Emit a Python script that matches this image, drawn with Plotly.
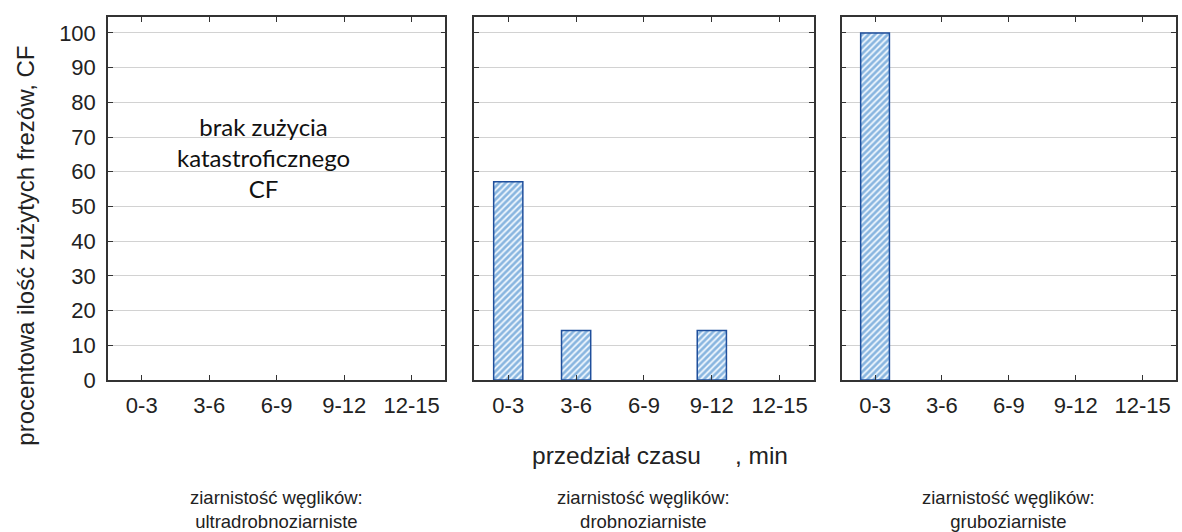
import plotly.graph_objects as go

categories = ["0-3", "3-6", "6-9", "9-12", "12-15"]
ultra_values = [0, 0, 0, 0, 0]
drobno_values = [57.14, 14.29, 0, 14.29, 0]
grubo_values = [100, 0, 0, 0, 0]
y_ticks = [0, 10, 20, 30, 40, 50, 60, 70, 80, 90, 100]
panel_labels = ["ziarnistość węglików:<br>ultradrobnoziarniste",
                "ziarnistość węglików:<br>drobnoziarniste",
                "ziarnistość węglików:<br>gruboziarniste"]
series = [ultra_values, drobno_values, grubo_values]

FONT = "Liberation Sans"
domains = [[0.0, 0.3159], [0.3430, 0.6607], [0.6869, 1.0]]

fig = go.Figure()
for i, vals in enumerate(series):
    suffix = "" if i == 0 else str(i + 1)
    fig.add_trace(go.Bar(
        x=categories, y=[v if v > 0 else None for v in vals],
        xaxis="x" + suffix, yaxis="y" + suffix,
        width=0.43,
        marker=dict(
            color="white",
            line=dict(color="#1F4F9C", width=1.5),
            pattern=dict(shape="/", fgcolor="#2173C2", bgcolor="#EEF6FD",
                         size=4.5, solidity=0.6),
        ),
        showlegend=False,
        hoverinfo="skip",
    ))

axis_common = dict(
    showline=True, linecolor="#333333", linewidth=1.5, mirror="ticks",
    ticks="inside", ticklen=5, tickcolor="#333333", tickwidth=1,
    tickfont=dict(family=FONT, size=22, color="#222222"),
)

layout = dict(
    width=1182, height=532,
    margin=dict(l=108, r=4, t=17, b=152),
    paper_bgcolor="white", plot_bgcolor="white",
)
for i in range(3):
    suffix = "" if i == 0 else str(i + 1)
    layout["xaxis" + suffix] = dict(
        domain=domains[i], anchor="y" + suffix,
        type="category", categoryorder="array", categoryarray=categories,
        range=[-0.5, 4.5], showgrid=False, zeroline=False,
        ticklabelstandoff=5,
        **axis_common,
    )
    layout["yaxis" + suffix] = dict(
        domain=[0, 1], anchor="x" + suffix,
        range=[0, 104.6], tickvals=y_ticks,
        showticklabels=(i == 0),
        showgrid=True, gridcolor="#D2D2D2", gridwidth=1, zeroline=False,
        ticklabelstandoff=6,
        **axis_common,
    )
fig.update_layout(**layout)

annotations = []
centers = [(d[0] + d[1]) / 2 for d in domains]
for c, lab in zip(centers, panel_labels):
    annotations.append(dict(
        text=lab, x=c, y=-0.357, xref="paper", yref="paper",
        xanchor="center", yanchor="middle", showarrow=False,
        font=dict(family=FONT, size=18.5, color="#222222"),
    ))
annotations.append(dict(
    text="przedział czasu     , min", x=0.5164, y=-0.207,
    xref="paper", yref="paper", xanchor="center", yanchor="middle",
    showarrow=False, font=dict(family=FONT, size=24.5, color="#222222"),
))
annotations.append(dict(
    text="procentowa ilość zużytych frezów, CF", textangle=-90,
    x=-0.0776, y=0.3705, xref="paper", yref="paper",
    xanchor="center", yanchor="middle", showarrow=False,
    font=dict(family=FONT, size=24, color="#222222"),
))
annotations.append(dict(
    text="brak zużycia<br>katastroficznego<br>CF", x=2.0 - 0.2, y=64,
    xref="x", yref="y", xanchor="center", yanchor="middle", showarrow=False,
    font=dict(family="Lato", size=24, color="#111111"),
    align="center",
))
fig.update_layout(annotations=annotations)

fig.write_html("out.html",
               config={"displayModeBar": False},
               post_script="document.body.style.margin='0';"
                           "document.body.style.overflow='hidden';")
